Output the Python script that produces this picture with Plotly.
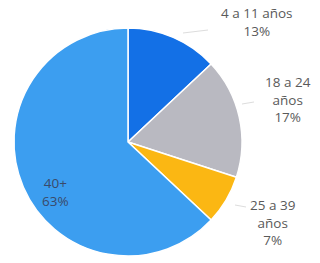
import plotly.graph_objects as go

labels = ["4 a 11 años", "18 a 24 años", "25 a 39 años", "40+"]
values = [13, 17, 7, 63]
label_text = ["4 a 11 años<br>13%", "18 a 24<br>años<br>17%", "25 a 39<br>años<br>7%", "40+<br>63%"]
colors = ["#1370e6", "#b9b9c1", "#fbb713", "#3c9ef0"]

fig = go.Figure(go.Pie(
    labels=labels, values=values, sort=False, direction="clockwise", rotation=0,
    marker=dict(colors=colors, line=dict(color="white", width=1.5)),
    textinfo="none", hoverinfo="label+percent",
    domain=dict(x=[14/320, 242/320], y=[7/263, 235/263]),
    showlegend=False,
))

pos = [(257, 22), (288, 100), (272, 222), (55, 192)]
font = dict(family="Open Sans, Lato, sans-serif", size=13.5, color="#5a5a5a")
for (x, y), t, i in zip(pos, label_text, range(4)):
    fig.add_annotation(x=x/320, y=1 - y/263, xref="paper", yref="paper", text=t,
                       xanchor="center", yanchor="middle",
                       showarrow=False, font=font if i < 3 else dict(font, color="#3a4a6a"),
                       align="center")

# faint leader lines
lines = [((183, 33), (208, 30)), ((242, 104), (254, 102)), ((235, 205), (246, 207))]
for (a, b) in lines:
    fig.add_shape(type="line", xref="paper", yref="paper",
                  x0=a[0]/320, y0=1 - a[1]/263, x1=b[0]/320, y1=1 - b[1]/263,
                  line=dict(color="#dddddd", width=1))

fig.update_layout(width=320, height=263, margin=dict(l=0, r=0, t=0, b=0),
                  paper_bgcolor="white", plot_bgcolor="white")
fig.write_html("out.html", config={"displayModeBar": False},
               post_script="document.body.style.margin='0';")
